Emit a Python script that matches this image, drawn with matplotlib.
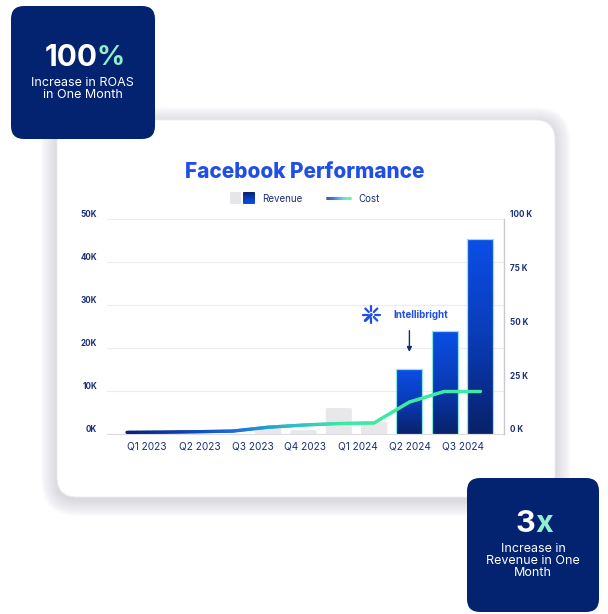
import numpy as np
import matplotlib.pyplot as plt
from matplotlib.patches import FancyBboxPatch
from matplotlib.collections import LineCollection
from matplotlib.colors import LinearSegmentedColormap

# data (K)
periods = list(range(11))
revenue = [0, 0, 0, 0, 1.7, 1.0, 6.1, 2.9, 15.2, 24.0, 45.4]
cost = [0.9, 1.0, 1.2, 1.5, 3.3, 4.3, 5.0, 5.3, 15.0, 20.0, 20.0]
intellibright_start = 8
quarter_labels = ['Q1 2023', 'Q2 2023', 'Q3 2023', 'Q4 2023', 'Q1 2024', 'Q2 2024', 'Q3 2024']
left_ticks = [0, 10, 20, 30, 40, 50]
right_ticks = [0, 25, 50, 75, 100]

NAVY = '#03226f'
MINT = '#8ff0cc'
BLUE = '#1f4fe6'
TXT = '#1b2f78'
plt.rcParams['font.family'] = ['Inter', 'DejaVu Sans']

W, H = 608, 614
fig = plt.figure(figsize=(W / 100, H / 100), dpi=100)
fig.patch.set_facecolor('white')

bg = fig.add_axes([0, 0, 1, 1])
bg.set_xlim(0, W)
bg.set_ylim(H, 0)
bg.axis('off')

# card with soft shadow
for i in range(16, 0, -1):
    sh = FancyBboxPatch((57 - i, 123 - i), 498 + 2 * i, 377 + 2 * i,
                        boxstyle="round,pad=0,rounding_size=%d" % (20 + i),
                        fc='#8a8a9a', ec='none', alpha=0.02)
    bg.add_patch(sh)
card = FancyBboxPatch((57, 120), 498, 377, boxstyle="round,pad=0,rounding_size=20",
                      fc='white', ec='#ececf2', lw=0.6)
bg.add_patch(card)

# stat boxes
for (x0, y0, w, h) in [(11, 6, 144, 133), (467, 478, 132, 134)]:
    bg.add_patch(FancyBboxPatch((x0, y0), w, h, boxstyle="round,pad=0,rounding_size=13",
                                fc=NAVY, ec='none'))

bg.text(97.5, 58, '100', color='white', fontsize=21.5, fontweight='bold', ha='right', va='center')
bg.text(96.5, 58, '%', color=MINT, fontsize=20, fontweight='bold', ha='left', va='center')
bg.text(82.5, 83, 'Increase in ROAS', color='white', fontsize=9, ha='center', va='center')
bg.text(82.5, 95.5, 'in One Month', color='white', fontsize=9, ha='center', va='center')

bg.text(535.5, 524, '3', color='white', fontsize=22, fontweight='bold', ha='right', va='center')
bg.text(535.5, 524, 'x', color=MINT, fontsize=22, fontweight='bold', ha='left', va='center')
for y, s in [(549, 'Increase in'), (561, 'Revenue in One'), (573, 'Month')]:
    bg.text(533, y, s, color='white', fontsize=9, ha='center', va='center')

# title and legend
bg.text(305, 172, 'Facebook Performance', color=BLUE, fontsize=15, fontweight='heavy',
        ha='center', va='center')

bar_cmap = LinearSegmentedColormap.from_list('bar', ['#08226c', '#0a3cb8', '#0b4ee6'])
line_cmap = LinearSegmentedColormap.from_list('line', ['#0a2378', '#0e3ea8', '#1b6fd8', '#2ab8d0', '#3de8a6', '#3ee9a4'])

bg.add_patch(FancyBboxPatch((230, 192), 11, 12, boxstyle="round,pad=0,rounding_size=1",
                            fc='#e6e6e8', ec='none', zorder=3))
grad = np.linspace(0, 1, 50).reshape(-1, 1)
leg_sq = FancyBboxPatch((243, 192), 12, 12, boxstyle="round,pad=0,rounding_size=1",
                        fc='none', ec='none', zorder=3)
bg.add_patch(leg_sq)
im = bg.imshow(grad, cmap=bar_cmap, extent=(243, 255, 204, 192), aspect='auto',
               origin='upper', zorder=4)
im.set_clip_path(leg_sq)
bg.text(262, 198.5, 'Revenue', color=TXT, fontsize=7, ha='left', va='center')
lx = np.linspace(326, 351, 30)
seg = np.array([[[lx[i], 198], [lx[i + 1], 198]] for i in range(len(lx) - 1)])
bg.add_collection(LineCollection(seg, colors=line_cmap(np.linspace(0, 1, len(seg))), lw=2.2, zorder=4))
bg.text(358, 198.5, 'Cost', color=TXT, fontsize=7, ha='left', va='center')

bg.set_xlim(0, W)
bg.set_ylim(H, 0)

# chart axes
L, R, T, B = 107, 504, 219.3, 434.3
ax = fig.add_axes([L / W, 1 - B / H, (R - L) / W, (B - T) / H])
ax.set_facecolor('none')
ax.set_xlim(-0.567, 10.68)
ax.set_ylim(0, 50)
ax.set_yticks(left_ticks)
ax.set_yticklabels(['%dK' % v for v in left_ticks])
ax.tick_params(axis='y', length=0, pad=7, labelsize=5.8, labelcolor=TXT)
for lab in ax.get_yticklabels():
    lab.set_fontweight('bold')
    lab.set_va('bottom')
ax.grid(axis='y', color='#ebebf0', lw=0.8)
ax.set_axisbelow(True)
for s in ['top', 'left', 'right']:
    ax.spines[s].set_visible(False)
ax.spines['bottom'].set_color('#dcdce2')
ax.spines['bottom'].set_linewidth(0.8)

tick_pos = np.linspace(0.57, 9.52, len(quarter_labels))
ax.set_xticks(tick_pos)
ax.set_xticklabels(quarter_labels)
ax.tick_params(axis='x', length=0, pad=5.5, labelsize=7.3, labelcolor=TXT)

bw = 0.74
for i, v in enumerate(revenue):
    if v <= 0:
        continue
    if i < intellibright_start:
        p = FancyBboxPatch((i - bw / 2, 0), bw, v, boxstyle="round,pad=0,rounding_size=0.08",
                           mutation_aspect=50 / 11.25 * 215 / 397, fc='#e8e8ea', ec='none', zorder=2)
        ax.add_patch(p)
    else:
        bars = ax.bar(i, v, width=bw, color='none', edgecolor='#8ae8e0', lw=0.9, zorder=3)
        im = ax.imshow(grad, cmap=bar_cmap, extent=(i - bw / 2, i + bw / 2, 0, v),
                       aspect='auto', origin='lower', zorder=2.9)
        im.set_clip_path(bars.patches[0])
ax.set_xlim(-0.567, 10.68)
ax.set_ylim(0, 50)

ax2 = ax.twinx()
ax2.set_ylim(0, 100)
ax2.set_yticks(right_ticks)
ax2.set_yticklabels(['%d K' % v for v in right_ticks])
ax2.tick_params(axis='y', length=0, pad=4.5, labelsize=5.8, labelcolor=TXT)
for lab in ax2.get_yticklabels():
    lab.set_fontweight('bold')
    lab.set_va('bottom')
for s in ['top', 'left', 'bottom']:
    ax2.spines[s].set_visible(False)
ax2.spines['right'].set_color('#c9c9d0')
ax2.spines['right'].set_linewidth(1)

# cost line with colour gradient along x
pts = []
for i in range(len(cost) - 1):
    for t in np.linspace(0, 1, 16)[:-1]:
        pts.append((periods[i] + t * (periods[i + 1] - periods[i]), cost[i] + t * (cost[i + 1] - cost[i])))
pts.append((periods[-1], cost[-1]))
pts = np.array(pts)
segs = np.stack([pts[:-1], pts[1:]], axis=1)
frac = np.clip((segs[:, 0, 0]) / 7.6, 0, 1)
lc = LineCollection(segs, colors=line_cmap(frac), lw=2.4, capstyle='round', zorder=5)
ax2.add_collection(lc)

# Intellibright marker
ax2.annotate('', xy=(8.0, 37), xytext=(8.0, 49.5),
             arrowprops=dict(arrowstyle='-|>', color='#1b2a6b', lw=1, mutation_scale=7))
ax2.text(7.55, 55.5, 'Intellibright', color=BLUE, fontsize=7, fontweight='bold', ha='left', va='center')
cx, cy = 6.92, 55.7
ky = 100 / 215
kx = 1 / 35.3
for ang in range(0, 360, 45):
    a = np.deg2rad(ang)
    r0, r1 = 3.5, 8.5
    lw = 2.2 if ang == 225 else 1.6
    if ang == 225:
        r0 = 0
    ax2.plot([cx + r0 * np.cos(a) * kx, cx + r1 * np.cos(a) * kx],
             [cy + r0 * np.sin(a) * ky, cy + r1 * np.sin(a) * ky], color=BLUE, lw=lw,
             solid_capstyle='round')
ax2.set_xlim(-0.567, 10.68)

fig.savefig('out.png', dpi=100, facecolor='white')
